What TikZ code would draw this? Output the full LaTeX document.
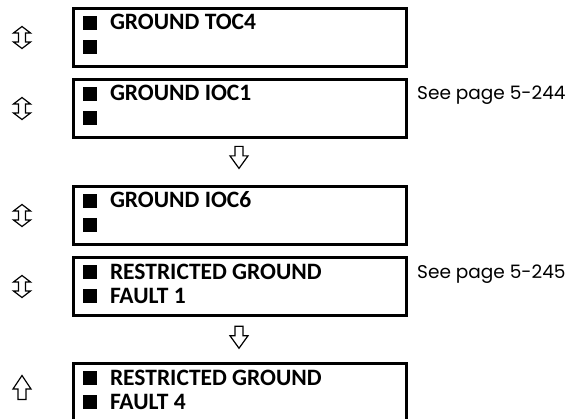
\documentclass[tikz,border=0pt]{standalone}
\usepackage{fontspec}
\setmainfont{Carlito}
\newfontfamily\pagefont{Poppins}
\usetikzlibrary{positioning,calc}

\newcommand{\blk}{\rule{14pt}{14pt}}
\newcommand{\entry}[2]{\hbox to 314pt{\vtop{\hbox{\blk\hspace{13pt}#1}\hbox{\blk\hspace{13pt}#2}}\hfil}}

\begin{document}
\begin{tikzpicture}[
    x=1pt, y=-1pt,
    menu/.style={draw, line width=3pt, minimum width=333pt, minimum height=58pt,
      inner xsep=9.5pt, inner ysep=0pt, text height=15pt, text depth=30pt,
      font=\fontsize{23.5}{24}\selectfont\bfseries},
    seepage/.style={anchor=base west, inner sep=0pt, font=\pagefont\fontsize{18.5}{22}\selectfont},
    sym/.style={draw, line width=1.2pt, line join=miter, fill=white},
    updown/.pic={\path[sym] (0,-11) -- (8.5,-4.5) -- (3.5,-4.5) -- (3.5,4.5) -- (8.5,4.5)
      -- (0,11) -- (-8.5,4.5) -- (-3.5,4.5) -- (-3.5,-4.5) -- (-8.5,-4.5) -- cycle;},
    downarr/.pic={\path[sym] (-4,-11) -- (4,-11) -- (4,-1.5) -- (9,-1.5) -- (0,11)
      -- (-9,-1.5) -- (-4,-1.5) -- cycle;},
    uparr/.pic={\path[sym] (-4,12) -- (4,12) -- (4,1.5) -- (9,1.5) -- (0,-12)
      -- (-9,1.5) -- (-4,1.5) -- cycle;}
]
\useasboundingbox (0,0) rectangle (569,419);

\node[menu] (toc4) at (240,37.5) {\entry{GROUND TOC4}{}};
\node[menu, below=10pt of toc4] (ioc1) {\entry{GROUND IOC1}{}};
\node[menu, below=46pt of ioc1] (ioc6) {\entry{GROUND IOC6}{}};
\node[menu, below=10pt of ioc6] (rgf1) {\entry{RESTRICTED GROUND}{FAULT 1}};
\node[menu, below=45pt of rgf1] (rgf4) {\entry{RESTRICTED GROUND}{FAULT 4}};

\node[seepage] (pg1) at ($(ioc1.north east)+(9,22)$) {See page 5-244};
\node[seepage] (pg2) at ($(rgf1.north east)+(9,22)$) {See page 5-245};

% scroll arrows
\foreach \b in {toc4,ioc1,ioc6,rgf1}
  \pic at ($(\b.west)+(-50,0)$) {updown};
\pic at ($(rgf4.west)+(-50,-5)$) {uparr};
\pic at ($(ioc1.south)!0.4!(ioc6.north)+(-1,0)$) {downarr};
\pic at ($(rgf1.south)!0.45!(rgf4.north)+(-1,0)$) {downarr};
\end{tikzpicture}
\end{document}
